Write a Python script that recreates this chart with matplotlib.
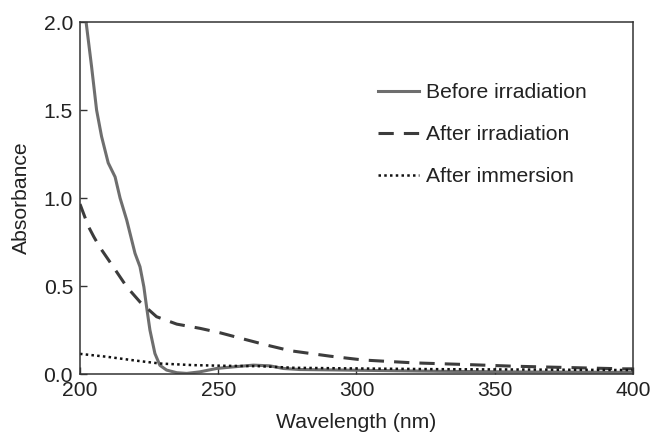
# UV-vis absorbance spectra: before/after irradiation and after immersion
import matplotlib
matplotlib.use("Agg")
import matplotlib.pyplot as plt

plt.rcParams["font.family"] = ["Liberation Sans", "DejaVu Sans"]

# ---- data ----
before_nm = [202.2, 204.2, 206, 207.8, 210.2, 212.7, 214.5, 216.9, 219.9, 221.7,
             223.1, 224.1, 225.3, 227.1, 228.9, 231.3, 235, 238.6, 243.4, 249.4,
             255.4, 262.7, 268.7, 273.5, 279.6, 290, 300, 330, 360, 400]
before_abs = [2.0, 1.745, 1.5, 1.35, 1.2, 1.12, 1.0, 0.875, 0.686, 0.61,
              0.496, 0.38, 0.25, 0.117, 0.05, 0.023, 0.008, 0.004, 0.013, 0.032,
              0.041, 0.051, 0.047, 0.032, 0.026, 0.024, 0.022, 0.016, 0.012, 0.01]

after_irr_nm = [200, 203, 205, 207.2, 212, 216.9, 221.7, 223.5, 227.7, 235,
                243.4, 250.6, 259, 267.5, 276, 290.4, 302.5, 320.5, 338.6, 356.7,
                374.8, 396.5, 400]
after_irr_abs = [0.966, 0.84, 0.78, 0.72, 0.61, 0.496, 0.41, 0.385, 0.326, 0.284,
                 0.26, 0.235, 0.2, 0.165, 0.133, 0.102, 0.08, 0.064, 0.055, 0.045,
                 0.038, 0.03, 0.03]

after_imm_nm = [200, 210, 220, 229, 241, 253, 265, 277, 300, 330, 360, 400]
after_imm_abs = [0.115, 0.098, 0.077, 0.06, 0.051, 0.047, 0.045, 0.036, 0.032,
                 0.028, 0.026, 0.023]

x_ticks = [200, 250, 300, 350, 400]
y_ticks = [0.0, 0.5, 1.0, 1.5, 2.0]

FS = 15.2

# ---- plot ----
fig = plt.figure(figsize=(6.52, 4.32), dpi=100)
ax = fig.add_axes([0.1227, 0.134, 0.848, 0.815])

ax.plot(before_nm, before_abs, color="#6e6e6e", lw=2.2,
        label="Before irradiation")
ax.plot(after_irr_nm, after_irr_abs, color="#3c3c3c", lw=2.2,
        linestyle=(0, (5, 3.3)), label="After irradiation")
ax.plot(after_imm_nm, after_imm_abs, color="#111111", lw=1.8,
        linestyle=(0, (1, 1.3)), label="After immersion")

ax.set_xlim(200, 400)
ax.set_ylim(0, 2.0)
ax.set_xticks(x_ticks)
ax.set_yticks(y_ticks)
ax.set_yticklabels([f"{v:.1f}" for v in y_ticks])

ax.tick_params(direction="in", length=5, width=1, colors="#333333",
               labelsize=FS, pad=5, labelcolor="#222222")
for sp in ax.spines.values():
    sp.set_color("#333333")
    sp.set_linewidth(1.1)

ax.set_xlabel("Wavelength (nm)", fontsize=FS, color="#222222", labelpad=9)
ax.set_ylabel("Absorbance", fontsize=FS, color="#222222", labelpad=9)

leg = ax.legend(loc="upper left", bbox_to_anchor=(0.539, 0.827),
                frameon=False, fontsize=FS, handlelength=1.95,
                handletextpad=0.3, labelspacing=1.1, borderpad=0,
                borderaxespad=0)
for t in leg.get_texts():
    t.set_color("#222222")

fig.savefig("out.png", dpi=100)
